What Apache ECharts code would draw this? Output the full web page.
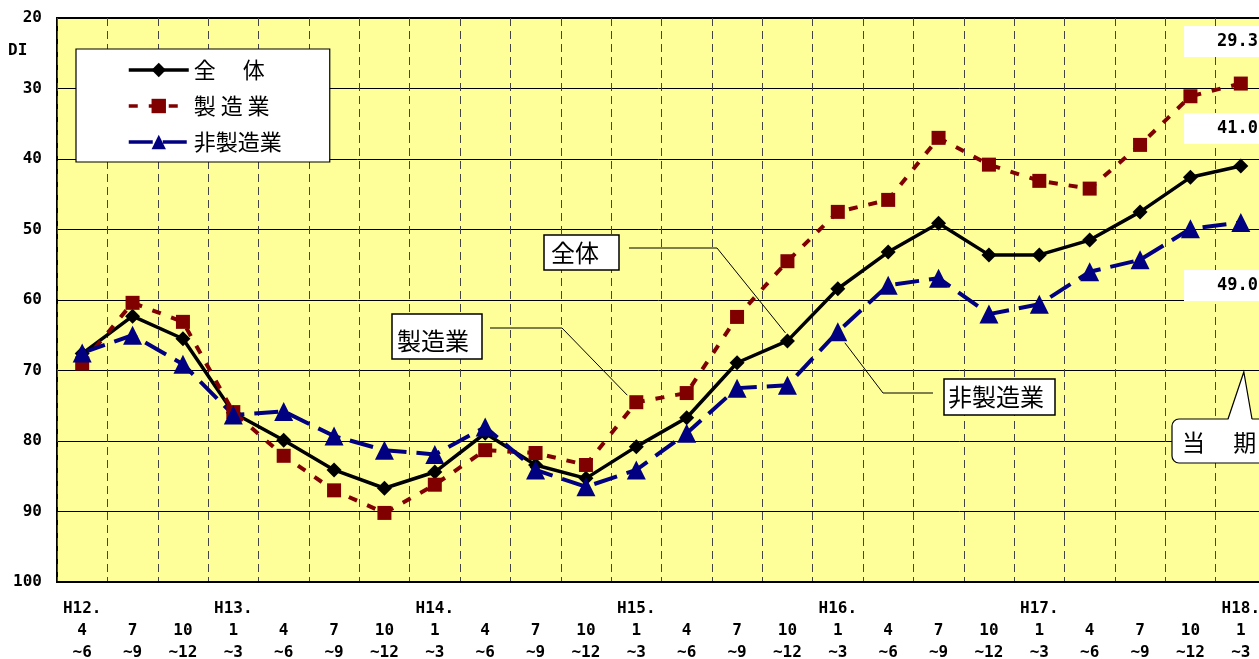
<!DOCTYPE html>
<html><head><meta charset="utf-8">
<script src="https://cdn.jsdelivr.net/npm/echarts@6/dist/echarts.min.js"></script>
<style>html,body{margin:0;padding:0;background:#fff}#c{width:1259px;height:659px}</style>
</head><body><div id="c"></div>
<script>
// ---- data ----
const yearLabels = ['H12.','','','H13.','','','','H14.','','','','H15.','','','','H16.','','','','H17.','','','','H18.'];
const monthFrom  = ['4','7','10','1','4','7','10','1','4','7','10','1','4','7','10','1','4','7','10','1','4','7','10','1'];
const monthTo    = ['~6','~9','~12','~3','~6','~9','~12','~3','~6','~9','~12','~3','~6','~9','~12','~3','~6','~9','~12','~3','~6','~9','~12','~3'];
const seriesNames = ['全体','製造業','非製造業'];
const legendNames = ['全\u3000 体','製 造 業','非製造業'];
const total            = [67.6,62.3,65.5,76.0,79.9,84.1,86.7,84.4,78.9,83.4,85.3,80.8,76.7,68.9,65.8,58.4,53.2,49.1,53.6,53.6,51.5,47.5,42.6,41.0];
const manufacturing    = [69.0,60.4,63.1,75.9,82.1,87.0,90.2,86.2,81.3,81.7,83.4,74.5,73.2,62.4,54.5,47.5,45.8,37.0,40.8,43.1,44.2,38.0,31.1,29.3];
const nonManufacturing = [67.5,65.0,69.1,76.3,75.8,79.3,81.3,81.9,78.0,84.1,86.5,84.1,78.9,72.5,72.1,64.5,57.9,56.9,62.0,60.6,56.0,54.3,49.9,49.0];
const yMin = 20, yMax = 100, yStep = 10;
const yAxisName = 'DI';
const currentLabel = '当\u3000 期';

const categories = yearLabels.map((y, i) => y + '\n' + monthFrom[i] + '\n' + monthTo[i]);
const MONO = '"DejaVu Sans Mono", "Liberation Mono", monospace';
const CJK = '"Noto Sans CJK JP", "Noto Sans CJK SC", sans-serif';

const chart = echarts.init(document.getElementById('c'), null, {renderer: 'canvas'});
const option = {
  animation: false,
  backgroundColor: '#ffffff',
  grid: {left: 57, top: 18, width: 1209, bottom: 77, containLabel: false, outerBoundsMode: 'none',
         show: true, backgroundColor: '#FFFF99', borderColor: '#000', borderWidth: 2},
  legend: {
    data: seriesNames, orient: 'vertical', left: 76, top: 49,
    itemWidth: 60, itemHeight: 18, itemGap: 14,
    padding: [10, 48, 9, 51],
    backgroundColor: '#fff', borderColor: '#000', borderWidth: 1.2,
    lineStyle: {width: 3.5},
    formatter: n => legendNames[seriesNames.indexOf(n)],
    textStyle: {fontFamily: CJK, fontSize: 22, color: '#000'}
  },
  xAxis: {
    type: 'category', data: categories, boundaryGap: true,
    axisLine: {show: true, lineStyle: {color: '#000', width: 2}},
    axisTick: {show: false},
    axisLabel: {interval: 0, margin: 16, fontFamily: MONO, fontWeight: 'bold', fontSize: 16, lineHeight: 22, color: '#000'},
    splitLine: {show: true, interval: 0, lineStyle: {color: '#444', width: 1, type: [8, 5]}}
  },
  yAxis: {
    type: 'value', inverse: true, min: yMin, max: yMax, interval: yStep,
    axisLine: {show: false}, axisTick: {show: false},
    axisLabel: {margin: 15, fontFamily: MONO, fontWeight: 'bold', fontSize: 16, color: '#000'},
    splitLine: {show: true, lineStyle: {color: '#000', width: 1}}
  },
  series: [
    {name: seriesNames[0], type: 'line', data: total, symbol: 'diamond', symbolSize: 15,
     itemStyle: {color: '#000'}, lineStyle: {color: '#000', width: 3.5}},
    {name: seriesNames[1], type: 'line', data: manufacturing, symbol: 'rect', symbolSize: 14,
     itemStyle: {color: '#800000'}, lineStyle: {color: '#800000', width: 4, type: [9, 11]}},
    {name: seriesNames[2], type: 'line', data: nonManufacturing, symbol: 'triangle', symbolSize: 19,
     itemStyle: {color: '#000080'}, lineStyle: {color: '#000080', width: 4, type: [24, 10]}}
  ]
};
chart.setOption(option);

function px(seriesIdx, i) {
  const arr = [total, manufacturing, nonManufacturing][seriesIdx];
  return chart.convertToPixel({gridIndex: 0}, [i, arr[i]]);
}
const g = [];
g.push({type: 'text', left: 8, top: 43, style: {text: yAxisName, font: 'bold 16px ' + MONO, fill: '#000'}});
function callout(x, y, w, h, text, tx, ty, pts) {
  g.push({type: 'polyline', shape: {points: pts}, style: {stroke: '#000', lineWidth: 1, fill: null}, z: 10});
  g.push({type: 'rect', shape: {x: x, y: y, width: w, height: h}, style: {fill: '#fff', stroke: '#000', lineWidth: 1.5}, z: 11});
  g.push({type: 'text', x: tx, y: ty, style: {text: text, font: '24px ' + CJK, fill: '#000', textVerticalAlign: 'middle', textAlign: 'left'}, z: 12});
}
const p1 = px(0, 14);
callout(544, 235, 75, 35, seriesNames[0], 551, 253, [[629, 248], [717, 248], [p1[0] - 2, p1[1] - 8]]);
const p2 = px(1, 11);
callout(392, 314, 90, 45, seriesNames[1], 397, 341, [[490, 328], [562, 328], [p2[0] - 9, p2[1] - 7]]);
const p3 = px(2, 15);
callout(944, 379, 111, 36, seriesNames[2], 948, 397, [[933, 393], [883, 393], [p3[0] + 7, p3[1] + 11]]);
const lastVals = [manufacturing[23], total[23], nonManufacturing[23]];
const boxY = [26, 113, 270];
lastVals.forEach((v, k) => {
  g.push({type: 'rect', shape: {x: 1184, y: boxY[k], width: 80, height: 31}, style: {fill: '#fff'}, z: 11});
  g.push({type: 'text', x: 1258, y: boxY[k] + 16, style: {text: v.toFixed(1), font: 'bold 17px ' + MONO, fill: '#000', textAlign: 'right', textVerticalAlign: 'middle'}, z: 12});
});
const apex = [px(2, 23)[0] + 3, 372];
g.push({type: 'rect', shape: {x: 1172, y: 419, width: 100, height: 44, r: 7}, style: {fill: '#fff', stroke: '#000', lineWidth: 1.2}, z: 11});
g.push({type: 'polygon', shape: {points: [[1228, 420.5], apex, [1252, 420.5]]}, style: {fill: '#fff'}, z: 12});
g.push({type: 'polyline', shape: {points: [[1228, 419], apex, [1252, 419]]}, style: {stroke: '#000', lineWidth: 1.2, fill: null}, z: 12});
g.push({type: 'text', x: 1182, y: 442, style: {text: currentLabel, font: '23px ' + CJK, fill: '#000', textVerticalAlign: 'middle'}, z: 13});
chart.setOption({graphic: g});
</script></body></html>
